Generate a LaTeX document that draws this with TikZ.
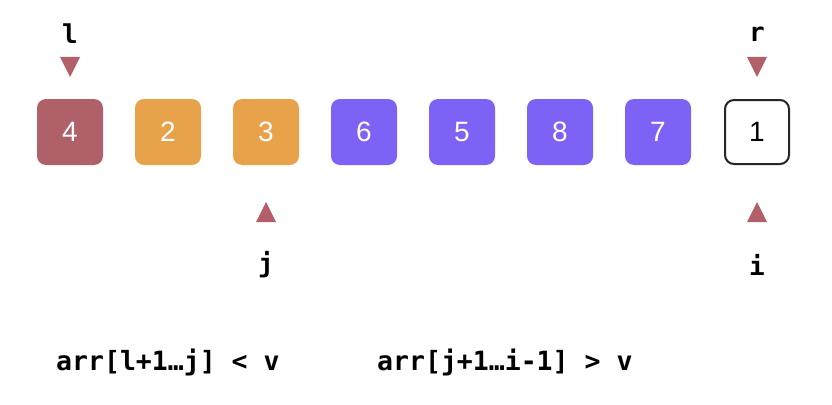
\documentclass[tikz,border=0pt]{standalone}
\usepackage{fontspec}
\setmainfont{Liberation Sans}
\newfontfamily\codefont{DejaVu Sans Mono}
\definecolor{redbox}{RGB}{176,96,104}
\definecolor{orangebox}{RGB}{232,162,74}
\definecolor{purplebox}{RGB}{125,98,245}
\definecolor{tricol}{RGB}{178,95,105}
\begin{document}
\begin{tikzpicture}[x=1pt,y=-1pt,
  cell/.style={minimum width=66pt,minimum height=66pt,rounded corners=9pt,inner sep=0pt,
    font=\fontsize{28}{28}\selectfont,text=white},
  redcell/.style={cell,fill=redbox},
  orangecell/.style={cell,fill=orangebox},
  purplecell/.style={cell,fill=purplebox},
  emptycell/.style={cell,fill=white,draw=black!85,line width=2pt,text=black,minimum width=64pt,minimum height=64pt},
  lbl/.style={font=\codefont\bfseries\fontsize{26}{26}\selectfont,inner sep=0pt},
  code/.style={font=\codefont\bfseries\fontsize{26.5}{26.5}\selectfont,inner sep=0pt,anchor=west},
]
\useasboundingbox (0,0) rectangle (832,404);
\node[redcell] (c1) at (70,132) {4};
\node[orangecell] (c2) at (168,132) {2};
\node[orangecell] (c3) at (266,132) {3};
\node[purplecell] (c4) at (364,132) {6};
\node[purplecell] (c5) at (462,132) {5};
\node[purplecell] (c6) at (560,132) {8};
\node[purplecell] (c7) at (658,132) {7};
\node[emptycell] (c8) at (757,132) {1};
% pointer labels
\node[lbl] (l) at (70,34) {l};
\node[lbl] (r) at (757,34) {r};
\node[lbl] (j) at (266,265) {j};
\node[lbl] (i) at (757,265) {i};
% triangles
\fill[tricol] (60,57) -- (80,57) -- (70,77) -- cycle;
\fill[tricol] (747,57) -- (767,57) -- (757,77) -- cycle;
\fill[tricol] (256,222) -- (276,222) -- (266,202) -- cycle;
\fill[tricol] (747,222) -- (767,222) -- (757,202) -- cycle;
% conditions
\node[code] (t1) at (56,362) {arr[l+1…j] < v};
\node[code] (t2) at (377,362) {arr[j+1…i-1] > v};
\end{tikzpicture}
\end{document}
